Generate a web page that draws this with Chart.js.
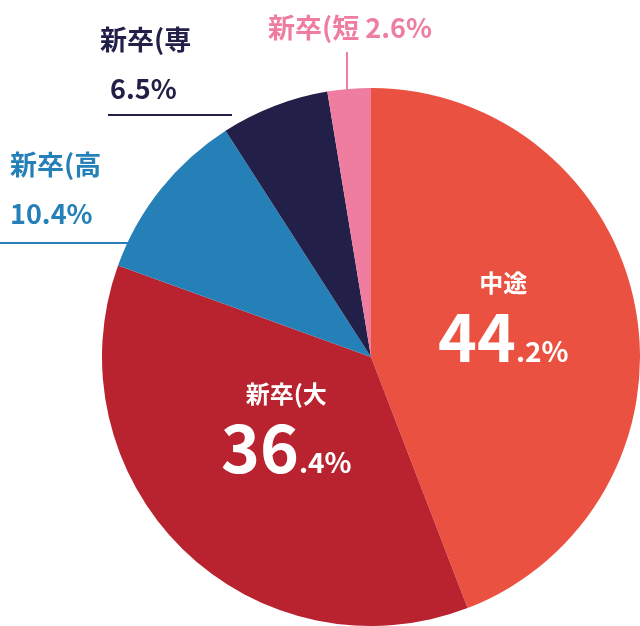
<!DOCTYPE html>
<html><head><meta charset="utf-8">
<script src="https://cdn.jsdelivr.net/npm/chart.js@4"></script>
<style>html,body{margin:0;background:#fff}#wrap{width:640px;height:626px}</style>
</head><body><div id="wrap"><canvas id="pie"></canvas></div>
<script>
const categories = ['中途', '新卒(大', '新卒(高', '新卒(専', '新卒(短'];
const shares = [44.2, 36.4, 10.4, 6.5, 2.6];
const sliceColors = ['#eb5140', '#b8232f', '#2580b8', '#222049', '#ee7da0'];

const FONT = '"Noto Sans CJK JP", "Noto Sans", sans-serif';

// labels inside the two big slices, outside labels with leader lines for the rest
const labelPlugin = {
    id: 'sliceLabels',
    afterDraw(chart) {
        const ctx = chart.ctx;
        const arcs = chart.getDatasetMeta(0).data;
        ctx.save();
        ctx.textBaseline = 'alphabetic';

        [0, 1].forEach(i => {
            const a = arcs[i];
            const mid = (a.startAngle + a.endAngle) / 2;
            const f = i === 0 ? 0.5 : 0.45;
            const cx = a.x + Math.cos(mid) * a.outerRadius * f;
            const cy = a.y + Math.sin(mid) * a.outerRadius * f;
            const parts = shares[i].toFixed(1).split('.');
            ctx.fillStyle = '#fff';
            ctx.textAlign = 'center';
            ctx.font = 'bold 24px ' + FONT;
            ctx.fillText(categories[i], cx, cy - 40);
            ctx.font = 'bold 66px ' + FONT;
            const w1 = ctx.measureText(parts[0]).width;
            ctx.font = 'bold 28px ' + FONT;
            const w2 = ctx.measureText('.' + parts[1] + '%').width;
            const x0 = cx - (w1 + w2) / 2;
            ctx.textAlign = 'left';
            ctx.font = 'bold 66px ' + FONT;
            ctx.fillText(parts[0], x0, cy + 30);
            ctx.font = 'bold 28px ' + FONT;
            ctx.fillText('.' + parts[1] + '%', x0 + w1, cy + 30);
        });

        ctx.lineWidth = 2;
        ctx.textAlign = 'left';
        ctx.font = 'bold 27px ' + FONT;

        // 高
        ctx.strokeStyle = ctx.fillStyle = sliceColors[2];
        ctx.fillText(categories[2], 10, 175);
        ctx.fillText(shares[2].toFixed(1) + '%', 10, 224);
        ctx.beginPath(); ctx.moveTo(0, 243); ctx.lineTo(128, 243); ctx.stroke();

        // 専
        ctx.strokeStyle = ctx.fillStyle = sliceColors[3];
        ctx.fillText(categories[3], 100, 50);
        ctx.fillText(shares[3].toFixed(1) + '%', 110, 99);
        ctx.beginPath(); ctx.moveTo(108, 115); ctx.lineTo(232, 115); ctx.stroke();

        // 短
        ctx.strokeStyle = ctx.fillStyle = sliceColors[4];
        ctx.fillText(categories[4] + ' ' + shares[4].toFixed(1) + '%', 268, 38);
        ctx.beginPath(); ctx.moveTo(347, 52); ctx.lineTo(347, 90); ctx.stroke();
        ctx.restore();
    }
};

new Chart(document.getElementById('pie'), {
    type: 'pie',
    data: {
        labels: categories,
        datasets: [{
            data: shares,
            backgroundColor: sliceColors,
            borderWidth: 0
        }]
    },
    options: {
        responsive: true,
        maintainAspectRatio: false,
        animation: false,
        layout: { padding: { left: 102, top: 88, right: 0, bottom: 0 } },
        plugins: { legend: { display: false }, tooltip: { enabled: false } }
    },
    plugins: [labelPlugin]
});
</script></body></html>
